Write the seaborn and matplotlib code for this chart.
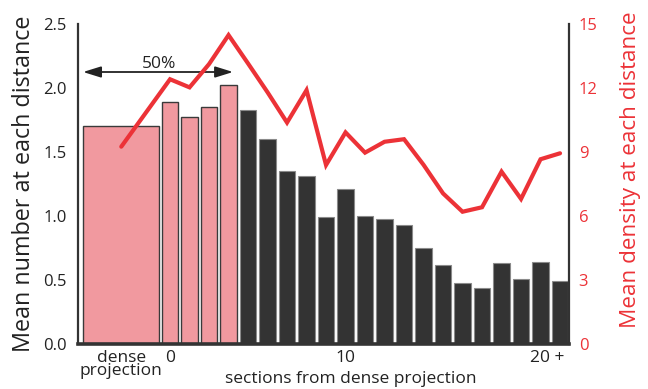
import matplotlib
matplotlib.use("Agg")
import matplotlib.pyplot as plt
import numpy as np
import pandas as pd
import seaborn as sns

# Mean counts per distance bin (left axis) and mean density (right axis)
dense_count = 1.70
dense_density = 9.25
sections = list(range(21))
section_counts = [1.89, 1.77, 1.85, 2.02, 1.83, 1.60, 1.35, 1.31, 0.99, 1.21,
                  1.00, 0.98, 0.93, 0.75, 0.62, 0.48, 0.435, 0.63, 0.505, 0.64, 0.49]
section_density = [12.41, 12.03, 13.12, 14.48, 13.15, 11.80, 10.38, 11.90, 8.39, 9.92,
                   8.97, 9.48, 9.60, 8.40, 7.06, 6.20, 6.41, 8.08, 6.80, 8.66, 8.94]
near_sections = 4  # sections 0-3 fall within the 50% span
xtick_labels = ["dense\nprojection", "0", "10", "20 +"]
left_ticks = [0.0, 0.5, 1.0, 1.5, 2.0, 2.5]
right_ticks = [0, 3, 6, 9, 12, 15]

PINK = "#F1999F"
DARK = "#333333"
RED = "#EC3237"
AXIS = "#333333"

sns.set_theme(style="white")
plt.rcParams["font.family"] = ["Open Sans", "DejaVu Sans"]

fig = plt.figure(figsize=(6.48, 3.89), dpi=100)
ax = fig.add_axes([78 / 648, 1 - 344 / 389, (569 - 78) / 648, (344 - 24) / 389])

df = pd.DataFrame({"section": sections, "count": section_counts})
near = df[df["section"] < near_sections]
far = df[df["section"] >= near_sections]

# dense projection bar spans roughly four section widths
dense_x = -2.5
ax.bar(dense_x, dense_count, width=3.9, color=PINK, edgecolor="#3a3a3a", linewidth=1.0, zorder=2)
sns.barplot(data=near, x="section", y="count", native_scale=True, width=0.83,
            color=PINK, saturation=1, errorbar=None, edgecolor="#3a3a3a",
            linewidth=1.0, ax=ax, zorder=2)
sns.barplot(data=far, x="section", y="count", native_scale=True, width=0.83,
            color=DARK, saturation=1, errorbar=None, edgecolor="#8a8a8a",
            linewidth=0.8, ax=ax, zorder=2)

ax.set_xlim(-4.72, 20.46)
ax.set_ylim(0, 2.5)
ax.set_yticks(left_ticks)
ax.set_yticklabels([f"{t:.1f}" for t in left_ticks])
ax.set_xticks([dense_x, 0, 9, 19.35])
ax.set_xticklabels(xtick_labels, linespacing=0.8)
ax.tick_params(axis="both", length=0, labelsize=12, colors="#222222")
ax.tick_params(axis="x", pad=4, labelsize=12.5)
ax.tick_params(axis="y", pad=8)
ax.set_xlabel("sections from dense projection", fontsize=12.5, color="#222222")
ax.xaxis.set_label_coords(0.556, -0.085)
ax.set_ylabel("Mean number at each distance", fontsize=16.8, color="#222222")
ax.yaxis.set_label_coords(-0.085, 0.5)

for side in ["top", "right"]:
    ax.spines[side].set_visible(False)
ax.spines["left"].set_color(AXIS)
ax.spines["left"].set_linewidth(1.6)
ax.spines["bottom"].set_color(AXIS)
ax.spines["bottom"].set_linewidth(2.6)

# 50% span arrow
ax.annotate("", xy=(3.23, 2.125), xytext=(-4.46, 2.125),
            arrowprops=dict(arrowstyle="<|-|>,head_length=0.9,head_width=0.28",
                            color="#222222", lw=1.3, shrinkA=0, shrinkB=0))
ax.text(-0.56, 2.19, "50%", ha="center", va="center", fontsize=12.5, color="#222222")

# density line on the right axis
ax2 = ax.twinx()
line_x = [dense_x] + sections
line_y = [dense_density] + section_density
sns.lineplot(x=line_x, y=line_y, color=RED, linewidth=3.0, ax=ax2,
             solid_joinstyle="miter", solid_capstyle="round")
ax2.set_ylim(0, 15)
ax2.set_yticks(right_ticks)
ax2.set_yticklabels([str(t) for t in right_ticks])
ax2.tick_params(axis="y", length=0, labelsize=12, colors=RED, pad=7)
ax2.set_ylabel("Mean density at each distance", fontsize=16.2, color=RED)
ax2.yaxis.set_label_coords(1.104, 0.544)
for side in ["top", "left", "bottom"]:
    ax2.spines[side].set_visible(False)
ax2.spines["right"].set_color(AXIS)
ax2.spines["right"].set_linewidth(1.6)

fig.savefig("out.png", dpi=100)
